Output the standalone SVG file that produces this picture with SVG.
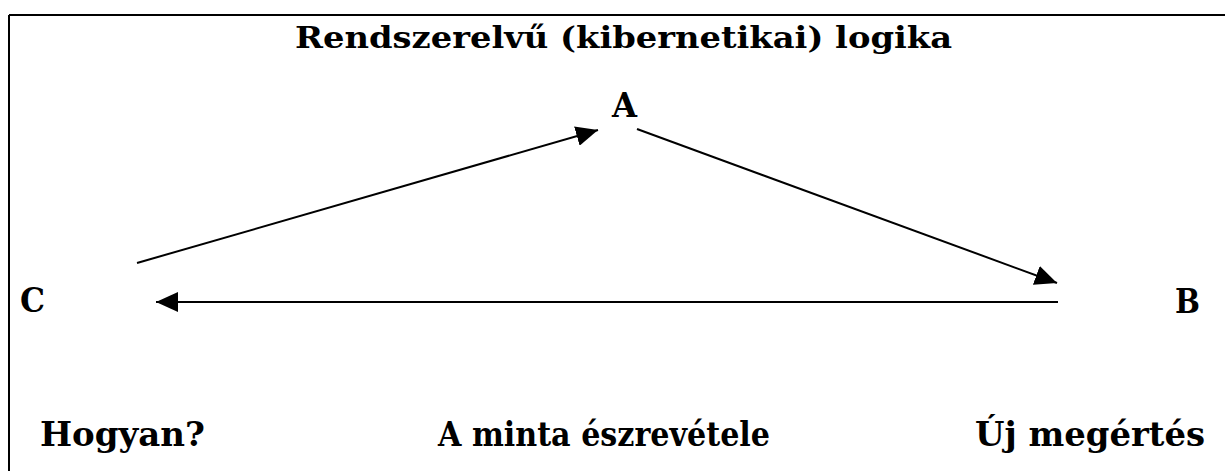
<svg xmlns="http://www.w3.org/2000/svg" width="1225" height="471" viewBox="0 0 1225 471">
<style>
text{font-family:"DejaVu Serif","Liberation Serif",serif;font-weight:bold;fill:#000}
.t{font-size:30px}
.l{font-size:33px}
.c{stroke:#000;stroke-width:2;fill:none}
</style>
<defs>
<marker id="ah" viewBox="0 0 22 20" refX="22" refY="10" markerWidth="22" markerHeight="20" markerUnits="userSpaceOnUse" orient="auto">
<path d="M0,0 L22,10 L0,20 Z" fill="#000"/>
</marker>
</defs>
<rect width="1225" height="471" fill="#fff"/>
<g id="frame">
<line x1="9" y1="15" x2="1225" y2="15" stroke="#000" stroke-width="2"/>
<line x1="9" y1="15" x2="9" y2="471" stroke="#000" stroke-width="2"/>
</g>
<g id="title"><text class="t" x="295" y="48" textLength="657" lengthAdjust="spacingAndGlyphs">Rendszerelvű (kibernetikai) logika</text></g>
<g id="nodeA"><text class="l" x="612" y="117" textLength="25" lengthAdjust="spacingAndGlyphs">A</text></g>
<g id="nodeB"><text class="l" x="1175" y="313" textLength="25" lengthAdjust="spacingAndGlyphs">B</text></g>
<g id="nodeC"><text class="l" x="20" y="312" textLength="25" lengthAdjust="spacingAndGlyphs">C</text></g>
<g id="labelC"><text class="l" x="40" y="446" textLength="165" lengthAdjust="spacingAndGlyphs">Hogyan?</text></g>
<g id="labelMid"><text class="l" x="438" y="446" textLength="332" lengthAdjust="spacingAndGlyphs">A minta észrevétele</text></g>
<g id="labelB"><text class="l" x="975" y="446" textLength="230" lengthAdjust="spacingAndGlyphs">Új megértés</text></g>
<g id="connectors">
<line class="c" x1="137" y1="263" x2="598" y2="130" marker-end="url(#ah)"/>
<line class="c" x1="637" y1="129" x2="1057" y2="283" marker-end="url(#ah)"/>
<line class="c" x1="1058" y1="302" x2="156" y2="302" marker-end="url(#ah)"/>
</g>
</svg>
